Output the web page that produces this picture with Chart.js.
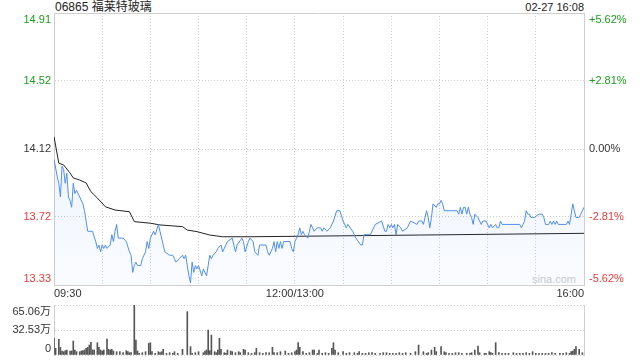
<!DOCTYPE html>
<html><head><meta charset="utf-8">
<script src="https://cdn.jsdelivr.net/npm/chart.js@4.4.1/dist/chart.umd.min.js"></script>
<style>
html,body{margin:0;padding:0;width:640px;height:360px;overflow:hidden;background:#fff;font-family:Arial,"Liberation Sans","Noto Sans CJK SC",sans-serif;}
#wrap{position:relative;width:640px;height:360px;overflow:hidden;}
.t{position:absolute;white-space:nowrap;line-height:14px;color:#222;}
#title{left:55px;top:0;font-size:12px;}
#date{right:56px;top:0;font-size:11px;}
#wm{left:532px;top:272px;font-size:11px;color:#ccc;}
#c1{position:absolute;left:0;top:0;width:640px;height:300px;}
#c2{position:absolute;left:0;top:292px;width:640px;height:76px;}
</style></head>
<body><div id="wrap">
<div class="t" id="wm">sina.com</div>
<div class="t" id="title">06865 福莱特玻璃</div>
<div class="t" id="date">02-27 16:08</div>
<canvas id="c1" width="640" height="300"></canvas>
<canvas id="c2" width="640" height="76"></canvas>
</div>
<script>
// ---- data (minutes since 09:30, trading minutes only; 150 = 12:00/13:00) ----
const priceTimes = [0,2,3,4,5,6,7,8,9,10,11,12,13,14,16,18,19,20,21,24,26,27,28,29,30,31,32,33,35,36,37,38,39,40,43,45,47,48,49,50,51,52,54,55,57,58,59,60,62,63,65,66,68,69,72,74,76,78,80,81,82,83,84,85,86,87,88,89,90,92,93,95,96,97,98,99,101,102,104,105,108,111,112,113,114,117,118,119,121,
122,124,125,127,128,132,133,134,136,137,138,139,140,141,142,143,147,148,149,150,151,152,153,154,155,156,158,159,160,162,164,166,167,168,170,172,174,176,178,180,182,183,186,188,191,192,193,197,199,200,204,206,207,208,209,210,211,212,213,214,216,217,220,222,226,227,229,230,231,232,233,234,235,236,238,239,240,241,242,243,247,
251,252,253,254,255,256,257,258,259,260,261,262,264,265,266,267,269,271,272,273,275,276,277,278,279,290,291,292,293,294,295,296,297,298,299,302,304,305,306,308,309,310,311,312,313,314,319,320,321,322,323,324,325,327,328,330];
const priceValues = [14.06,13.96,13.92,13.84,14.02,14.00,13.92,13.98,13.84,13.82,13.78,13.92,13.86,13.88,13.84,13.80,13.76,13.70,13.64,13.64,13.58,13.54,13.56,13.52,13.56,13.54,13.56,13.54,13.56,13.62,13.58,13.64,13.68,13.60,13.60,13.58,13.52,13.50,13.40,13.44,13.46,13.44,13.44,13.48,13.52,13.58,13.54,13.60,13.64,13.62,13.68,13.64,13.56,13.52,13.50,13.50,13.46,13.48,13.50,13.48,13.50,13.44,13.38,13.34,13.46,13.40,13.44,13.42,13.44,13.38,13.42,13.38,13.44,13.50,13.48,13.50,13.52,13.54,13.56,13.52,13.58,13.60,13.56,13.52,13.56,13.60,13.58,13.52,13.58,
13.60,13.58,13.52,13.50,13.56,13.56,13.52,13.50,13.54,13.58,13.52,13.58,13.54,13.58,13.54,13.58,13.58,13.54,13.52,13.58,13.60,13.62,13.66,13.62,13.64,13.62,13.60,13.64,13.68,13.64,13.66,13.66,13.64,13.66,13.64,13.66,13.70,13.76,13.76,13.70,13.66,13.68,13.64,13.60,13.56,13.56,13.62,13.62,13.66,13.68,13.70,13.64,13.64,13.68,13.66,13.68,13.66,13.68,13.62,13.68,13.66,13.64,13.66,13.70,13.68,13.70,13.70,13.68,13.72,13.76,13.72,13.66,13.72,13.80,13.78,13.80,13.80,13.82,13.80,13.76,13.76,
13.76,13.74,13.78,13.74,13.78,13.78,13.74,13.78,13.74,13.72,13.68,13.74,13.72,13.70,13.68,13.70,13.70,13.66,13.68,13.66,13.68,13.66,13.66,13.70,13.68,13.68,13.66,13.68,13.70,13.76,13.74,13.74,13.72,13.72,13.72,13.74,13.74,13.72,13.68,13.68,13.70,13.68,13.70,13.68,13.70,13.68,13.68,13.70,13.68,13.74,13.80,13.76,13.72,13.72,13.74,13.78];

const avgTimes  = [0,3,6,10,12,16,20,23,27,32,38,47,50,60,66,80,83,89,97,105,122,228,330];
const avgValues = [14.192,14.037,14.027,13.980,13.951,13.939,13.922,13.871,13.834,13.783,13.764,13.754,13.696,13.687,13.677,13.667,13.647,13.638,13.618,13.608,13.608,13.618,13.628];

// volume in 万 shares
const volTimes = [0,1,3,4,5,6,7,8,10,11,12,13,14,16,17,18,19,20,21,22,23,24,25,27,28,29,30,31,33,34,35,36,37,39,41,43,45,46,47,48,50,51,52,53,55,57,59,60,61,63,65,66,67,68,70,72,74,75,77,80,83,85,86,88,90,93,94,95,96,97,98,100,101,102,103,104,106,107,108,110,111,113,115,116,118,119,121,123,125,126,128,130,132,134,136,137,139,141,144,146,148,150,151,152,153,155,157,159,161,162,164,165,167,169,171,173,174,175,177,180,182,184,187,189,190,192,194,196,198,200,203,205,207,209,211,213,215,217,219,222,225,227,230,232,233,235,237,238,241,243,244,246,248,250,252,254,257,259,260,262,264,265,268,269,271,272,273,275,277,279,281,283,286,288,290,292,294,296,298,300,302,304,306,308,310,312,315,317,319,321,322,323,324,325,327,329];
const volValues = [21.7,8.7,20.4,10.0,5.2,4.3,5.6,6.5,5.2,5.2,18.2,6.5,4.3,4.3,5.2,5.6,6.5,8.7,10.0,13.0,16.5,6.5,6.5,16.0,10.0,6.5,5.2,6.5,20.8,7.4,6.5,7.4,5.2,4.3,4.3,3.0,5.6,4.3,3.0,3.0,65.06,19.5,5.2,2.2,3.0,4.3,15.2,16.0,4.3,2.2,4.3,3.0,4.3,7.4,2.2,3.0,2.2,4.3,2.2,7.4,56.4,10.8,2.2,3.0,4.3,3.0,5.2,6.5,32.5,5.6,26.0,4.3,3.0,6.5,21.7,7.4,3.0,2.2,6.5,5.2,4.3,3.0,4.3,3.0,7.4,6.5,3.0,2.2,3.0,8.7,3.0,2.2,3.0,3.0,10.0,3.0,3.0,4.3,5.2,2.2,3.0,4.3,6.5,16.0,10.0,4.3,2.2,3.0,6.5,6.5,2.2,6.5,2.2,3.0,2.2,8.7,16.0,6.5,3.0,4.3,2.2,3.0,3.0,2.2,4.3,2.2,2.2,3.0,3.0,2.2,2.2,3.0,3.0,2.2,2.2,2.2,3.0,2.2,3.0,2.2,4.3,13.0,4.3,2.2,3.0,6.5,10.0,4.3,10.8,4.3,3.0,2.2,2.2,3.0,3.0,2.2,2.2,2.2,3.0,6.5,11.7,3.0,2.2,2.2,4.3,3.0,2.2,16.0,3.0,2.2,2.2,2.2,3.0,2.2,2.2,2.2,3.0,2.2,4.3,2.2,2.2,2.2,2.2,2.2,3.0,2.2,2.2,2.2,3.0,2.2,4.3,5.2,7.4,10.8,7.4,3.0,2.2,4.3];

const priceMin = 13.3265, priceMax = 14.9135;
const yTickValues = [13.3265, 13.7233, 14.12, 14.5168, 14.9135];
const yLeftLabels = ['13.33','13.72','14.12','14.52','14.91'];
const yRightLabels = ['-5.62%','-2.81%','0.00%','+2.81%','+5.62%'];
const xTickValues = [0,30,60,90,120,150,180,210,240,270,300,330];
const xLabels = {0:'09:30',150:'12:00/13:00',330:'16:00'};
const volMax = 65.06;
const volTickValues = [0, 32.53, 65.06];
const volLabels = ['0','32.53万','65.06万'];

// ---- styles ----
const GREEN = '#1a9f1a', RED = '#f03a3a', DARK = '#333';
const tickColors = [RED, RED, DARK, GREEN, GREEN];
const GRID = '#cfcfcf', NONE = 'rgba(0,0,0,0)';
Chart.defaults.font.family = 'Arial, "Liberation Sans", "Noto Sans CJK SC", sans-serif';
Chart.defaults.font.size = 11;
Chart.defaults.color = DARK;

function edgeLabel(text, i, n){
  if (i === 0) return [text, ''];
  if (i === n - 1) return ['', text];
  return text;
}
const setTicks = vals => s => { s.ticks = vals.map(v => ({value: v})); };
const fitY = w => s => { s.width = w; s.paddingTop = 0; s.paddingBottom = 0; };

new Chart(document.getElementById('c1'), {
  type: 'line',
  data: {
    datasets: [
      {
        data: priceTimes.map((t, i) => ({x: t, y: priceValues[i]})),
        borderColor: '#4f8ef2', borderWidth: 1, pointRadius: 0, tension: 0,
        fill: 'start',
        backgroundColor: (c) => {
          const ca = c.chart.chartArea;
          if (!ca) return 'rgba(79,142,242,0.08)';
          const g = c.chart.ctx.createLinearGradient(0, ca.top, 0, ca.bottom);
          g.addColorStop(0, 'rgba(79,142,242,0.16)');
          g.addColorStop(1, 'rgba(79,142,242,0.03)');
          return g;
        },
        xAxisID: 'x', yAxisID: 'y'
      },
      {
        data: avgTimes.map((t, i) => ({x: t, y: avgValues[i]})),
        borderColor: '#222', borderWidth: 1, pointRadius: 0, tension: 0, fill: false,
        xAxisID: 'x', yAxisID: 'y'
      }
    ]
  },
  options: {
    responsive: false, animation: false,
    layout: {padding: {top: 13}},
    plugins: {legend: {display: false}, tooltip: {enabled: false}},
    scales: {
      x: {
        type: 'linear', min: 0, max: 330, offset: false,
        afterBuildTicks: setTicks(xTickValues),
        afterFit: s => { s.height = 15; s.paddingLeft = 0; s.paddingRight = 0; },
        ticks: {autoSkip: false, maxRotation: 0, align: 'inner', padding: 2, color: DARK,
                callback: v => (xLabels[v] !== undefined ? xLabels[v] : '')},
        grid: {drawTicks: false, lineWidth: 1,
               color: c => (c.index === 0 || c.index === xTickValues.length - 1) ? NONE : GRID},
        border: {display: true, color: GRID, dash: [1, 2]}
      },
      xTop: {
        type: 'linear', position: 'top', min: 0, max: 330,
        ticks: {display: false}, grid: {display: false, drawTicks: false},
        border: {display: true, color: GRID},
        afterFit: s => { s.height = 0; }
      },
      y: {
        type: 'linear', position: 'left', min: priceMin, max: priceMax,
        afterBuildTicks: setTicks(yTickValues),
        afterFit: fitY(54),
        ticks: {autoSkip: false, padding: 3, font: {size: 11, lineHeight: '13px'},
                color: c => tickColors[c.index],
                callback: (v, i, t) => edgeLabel(yLeftLabels[i], i, t.length)},
        grid: {drawTicks: false, lineWidth: 1,
               color: c => (c.index === 0 || c.index === yTickValues.length - 1) ? NONE : GRID},
        border: {display: true, color: GRID, dash: [1, 2]}
      },
      y2: {
        type: 'linear', position: 'right', min: priceMin, max: priceMax,
        afterBuildTicks: setTicks(yTickValues),
        afterFit: fitY(56),
        ticks: {autoSkip: false, padding: 5, font: {size: 11, lineHeight: '13px'},
                color: c => tickColors[c.index],
                callback: (v, i, t) => edgeLabel(yRightLabels[i], i, t.length)},
        grid: {display: false, drawTicks: false},
        border: {display: true, color: GRID}
      }
    }
  }
});

new Chart(document.getElementById('c2'), {
  type: 'bar',
  data: {
    datasets: [{
      data: volTimes.map((t, i) => ({x: t, y: volValues[i]})),
      backgroundColor: '#555', borderWidth: 0, barThickness: 1,
      xAxisID: 'x', yAxisID: 'y'
    }]
  },
  options: {
    responsive: false, animation: false,
    layout: {padding: {top: 13, bottom: 13}},
    plugins: {legend: {display: false}, tooltip: {enabled: false}},
    scales: {
      x: {type: 'linear', min: 0, max: 330, offset: false, display: false, grid: {offset: false}},
      y: {
        type: 'linear', position: 'left', min: 0, max: volMax,
        afterBuildTicks: setTicks(volTickValues),
        afterFit: fitY(54),
        ticks: {autoSkip: false, padding: 3, color: DARK, font: {size: 11, lineHeight: '13px'},
                callback: (v, i, t) => edgeLabel(volLabels[i], i, t.length)},
        grid: {drawTicks: false, lineWidth: 1, color: GRID},
        border: {display: true, color: GRID, dash: [1, 2]}
      },
      y2: {
        type: 'linear', position: 'right', min: 0, max: volMax,
        ticks: {display: false}, grid: {display: false, drawTicks: false},
        border: {display: true, color: GRID},
        afterFit: fitY(56)
      }
    }
  }
});
</script>
</body></html>
